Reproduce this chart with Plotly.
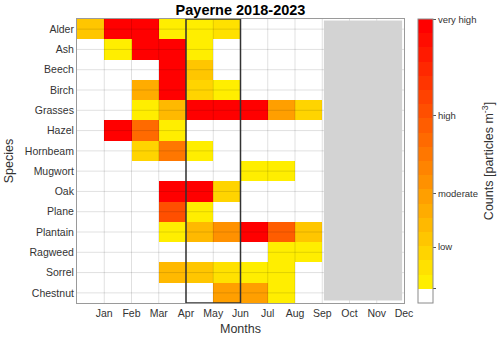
import plotly.graph_objects as go

months = ["Jan", "Feb", "Mar", "Apr", "May", "Jun", "Jul", "Aug", "Sep", "Oct", "Nov", "Dec"]
species = ["Alder", "Ash", "Beech", "Birch", "Grasses", "Hazel", "Hornbeam",
           "Mugwort", "Oak", "Plane", "Plantain", "Ragweed", "Sorrel", "Chestnut"]

# level per month (0 = no pollen, 1 = lowest yellow ... 19 = very high red)
alder    = [4, 19, 19, 1, 1, 2, 0, 0, 0, 0, 0, 0]
ash      = [0, 1, 19, 19, 1, 0, 0, 0, 0, 0, 0, 0]
beech    = [0, 0, 0, 19, 4, 0, 0, 0, 0, 0, 0, 0]
birch    = [0, 0, 6, 19, 3, 1, 0, 0, 0, 0, 0, 0]
grasses  = [0, 0, 1, 5, 19, 19, 19, 7, 3, 0, 0, 0]
hazel    = [0, 19, 11, 1, 0, 0, 0, 0, 0, 0, 0, 0]
hornbeam = [0, 0, 3, 10, 1, 0, 0, 0, 0, 0, 0, 0]
mugwort  = [0, 0, 0, 0, 0, 0, 1, 1, 0, 0, 0, 0]
oak      = [0, 0, 0, 19, 19, 3, 0, 0, 0, 0, 0, 0]
plane    = [0, 0, 0, 13, 1, 0, 0, 0, 0, 0, 0, 0]
plantain = [0, 0, 0, 1, 5, 8, 19, 12, 4, 0, 0, 0]
ragweed  = [0, 0, 0, 0, 0, 0, 0, 1, 1, 0, 0, 0]
sorrel   = [0, 0, 0, 5, 4, 2, 1, 1, 0, 0, 0, 0]
chestnut = [0, 0, 0, 0, 0, 7, 7, 1, 0, 0, 0, 0]

cbar_tickvals = [0.5, 3.44, 7.18, 12.67, 19.45]
cbar_ticktext = [" ", "low", "moderate", "high", "very high"]

rows = [alder, ash, beech, birch, grasses, hazel, hornbeam,
        mugwort, oak, plane, plantain, ragweed, sorrel, chestnut]
z = [[(v if v > 0 else None) for v in r] for r in rows]

n_levels = 20  # white + 19 colours
zmin, zmax = -0.5, n_levels - 0.5
colors = ["rgb(255,255,255)"]
for k in range(1, n_levels):
    g = round(238 * (1 - (k - 1) / (n_levels - 2)))
    colors.append(f"rgb(255,{g},0)")
colorscale = []
for i, c in enumerate(colors):
    colorscale.append([i / n_levels, c])
    colorscale.append([(i + 1) / n_levels, c])

x_centers = [i + 0.5 for i in range(len(months))]
y_idx = list(range(len(species)))

FONT = "Liberation Sans, Arial, Helvetica, sans-serif"

fig = go.Figure()
fig.add_trace(go.Heatmap(
    x=x_centers, y=y_idx, z=z,
    zmin=zmin, zmax=zmax, colorscale=colorscale,
    hoverongaps=False, xgap=0, ygap=0,
    colorbar=dict(
        x=(418 - 77) / 327, xanchor="left", xpad=0,
        y=0.5, yanchor="middle", ypad=0,
        len=284, lenmode="pixels", thickness=15, thicknessmode="pixels",
        outlinecolor="#8a8a8a", outlinewidth=1,
        tickvals=cbar_tickvals, ticktext=cbar_ticktext,
        ticks="outside", ticklen=3, tickcolor="#555",
        tickfont=dict(family=FONT, size=9.5, color="#333"),
        title=dict(text="Counts [particles m<sup>-3</sup>]", side="right",
                   font=dict(family=FONT, size=12.5, color="#333")),
    ),
))

shapes = []
grid_col = "rgba(0,0,0,0.12)"
for i in range(1, len(months)):
    shapes.append(dict(type="line", xref="x", yref="y", x0=i, x1=i,
                       y0=-0.5, y1=len(species) - 0.5, layer="above",
                       line=dict(color=grid_col, width=1)))
for j in range(len(species)):
    shapes.append(dict(type="line", xref="x", yref="y", x0=0, x1=len(months),
                       y0=j, y1=j, layer="above",
                       line=dict(color=grid_col, width=1)))
# grey shaded months (Oct-Dec)
shapes.append(dict(type="rect", xref="x", yref="y", x0=9.06, x1=11.93,
                   y0=-0.42, y1=len(species) - 0.62, layer="above",
                   fillcolor="#d3d3d3", line=dict(width=0)))
# highlight box (May-Jun)
shapes.append(dict(type="rect", xref="x", yref="y", x0=4, x1=6,
                   y0=-0.5, y1=len(species) - 0.5, layer="above",
                   fillcolor="rgba(0,0,0,0)", line=dict(color="#333", width=1.5)))

fig.update_layout(
    width=500, height=338,
    margin=dict(l=77, r=96, t=19, b=35, autoexpand=False),
    paper_bgcolor="white", plot_bgcolor="white",
    font=dict(family=FONT, color="#333"),
    title=dict(text="<b>Payerne 2018-2023</b>", x=(77 + 404) / 2 / 500, xanchor="center",
               y=1 - 10 / 338, yanchor="middle",
               font=dict(family=FONT, size=14.5, color="black")),
    shapes=shapes,
    showlegend=False,
)
fig.update_xaxes(
    range=[0, len(months)], tickvals=list(range(1, len(months) + 1)), ticktext=months,
    showgrid=False, zeroline=False, showline=True, mirror=True, automargin=False,
    linecolor="#9a9a9a", linewidth=1, ticks="",
    tickfont=dict(family=FONT, size=10.5, color="#333"),
    title=dict(text="Months", font=dict(family=FONT, size=12.5, color="#333"), standoff=6),
)
fig.update_yaxes(
    range=[len(species) - 0.5, -0.5], tickvals=y_idx, ticktext=species,
    showgrid=False, zeroline=False, showline=True, mirror=True, automargin=False,
    linecolor="#9a9a9a", linewidth=1, ticks="",
    tickfont=dict(family=FONT, size=10.5, color="#333"),
    title=dict(text="Species", font=dict(family=FONT, size=12.5, color="#333"), standoff=8),
)

fig.write_html("out.html", config={"displayModeBar": False},
               post_script="document.body.style.margin='0px';")
